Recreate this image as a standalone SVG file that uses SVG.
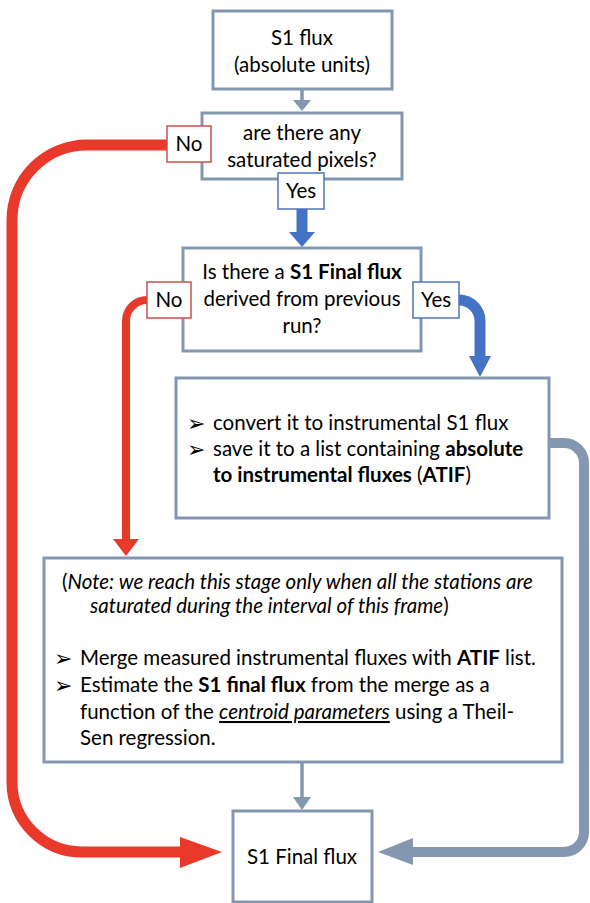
<svg xmlns="http://www.w3.org/2000/svg" width="590" height="903" viewBox="0 0 590 903">
<style>
.box{fill:#fff;stroke:#8497B0;stroke-width:3}
.lno{fill:#fff;stroke:#C9504A;stroke-width:1.5}
.lyes{fill:#fff;stroke:#4F74B8;stroke-width:1.5}
text{font-family:Lato,"Liberation Sans",sans-serif;font-size:20.5px;fill:#000}
.c{text-anchor:middle}
.b{font-weight:bold}
.i{font-style:italic}
.bul{font-family:"DejaVu Sans",sans-serif;font-size:22px}
</style>
<rect width="590" height="903" fill="#fff"/>
<g id="connectors">
  <line x1="302" y1="89" x2="302" y2="102" stroke="#8497B0" stroke-width="3.5"/>
  <polygon points="293,100 311,100 302,111" fill="#8497B0"/>
  <line x1="302" y1="209" x2="302" y2="234" stroke="#4472C4" stroke-width="11"/>
  <polygon points="289,232 315,232 302,247" fill="#4472C4"/>
  <path d="M167,145 H87 A75,75 0 0 0 12,220 V782 A70,70 0 0 0 82,852 H182" fill="none" stroke="#E8392B" stroke-width="11"/>
  <polygon points="180,837 222,852 180,868" fill="#E8392B"/>
  <path d="M147,300 A21,21 0 0 0 126,321 V541" fill="none" stroke="#E8392B" stroke-width="8"/>
  <polygon points="113,539 139,539 126,556" fill="#E8392B"/>
  <path d="M459,300 A21,21 0 0 1 480,321 V358" fill="none" stroke="#4472C4" stroke-width="11"/>
  <polygon points="469,356 491,356 480,377" fill="#4472C4"/>
  <path d="M549,443 H564 A20,20 0 0 1 584,463 V832 A20,20 0 0 1 564,852 H411" fill="none" stroke="#8497B0" stroke-width="10"/>
  <polygon points="413,838 378,852 413,865" fill="#8497B0"/>
  <line x1="302" y1="762" x2="302" y2="799" stroke="#8497B0" stroke-width="3.5"/>
  <polygon points="293,797 311,797 302,810" fill="#8497B0"/>
</g>
<g id="nodeA">
  <rect class="box" x="213" y="11" width="179" height="78"/>
  <text class="c" x="302" y="45">S1 flux</text>
  <text class="c" x="302" y="72">(absolute units)</text>
</g>
<g id="nodeB">
  <rect class="box" x="202" y="113" width="200" height="66"/>
  <text class="c" x="302" y="140">are there any</text>
  <text class="c" x="302" y="167">saturated pixels?</text>
</g>
<g id="labelNo1">
  <rect class="lno" x="167" y="126" width="44" height="36"/>
  <text class="c" x="189" y="151">No</text>
</g>
<g id="labelYes1">
  <rect class="lyes" x="278" y="173" width="46" height="36"/>
  <text class="c" x="301" y="198">Yes</text>
</g>
<g id="nodeC">
  <rect class="box" x="183" y="248" width="238" height="103"/>
  <text class="c" x="302" y="279">Is there a <tspan class="b">S1 Final flux</tspan></text>
  <text class="c" x="302" y="306">derived from previous</text>
  <text class="c" x="302" y="333">run?</text>
</g>
<g id="labelNo2">
  <rect class="lno" x="147" y="282" width="44" height="36"/>
  <text class="c" x="169" y="307">No</text>
</g>
<g id="labelYes2">
  <rect class="lyes" x="413" y="282" width="46" height="36"/>
  <text class="c" x="436" y="307">Yes</text>
</g>
<g id="nodeD">
  <rect class="box" x="176" y="378" width="373" height="140"/>
  <text class="bul" x="187" y="431">➢</text>
  <text x="213" y="430">convert it to instrumental S1 flux</text>
  <text class="bul" x="187" y="457">➢</text>
  <text x="213" y="456">save it to a list containing <tspan class="b">absolute</tspan></text>
  <text x="213" y="482"><tspan class="b">to instrumental fluxes</tspan> (<tspan class="b">ATIF</tspan>)</text>
</g>
<g id="nodeE">
  <rect class="box" x="44" y="558" width="518" height="204"/>
  <text x="62" y="589">(<tspan class="i">Note: we reach this stage only when all the stations are</tspan></text>
  <text x="90" y="613"><tspan class="i">saturated during the interval of this frame</tspan>)</text>
  <text class="bul" x="54" y="666">➢</text>
  <text x="80" y="665">Merge measured instrumental fluxes with <tspan class="b">ATIF</tspan> list.</text>
  <text class="bul" x="54" y="693">➢</text>
  <text x="80" y="692">Estimate the <tspan class="b">S1 final flux</tspan> from the merge as a</text>
  <text x="80" y="719">function of the <tspan class="i" text-decoration="underline">centroid parameters</tspan> using a Theil-</text>
  <text x="80" y="745">Sen regression.</text>
</g>
<g id="nodeF">
  <rect class="box" x="233" y="811" width="139" height="91"/>
  <text class="c" x="302" y="864">S1 Final flux</text>
</g>
</svg>
